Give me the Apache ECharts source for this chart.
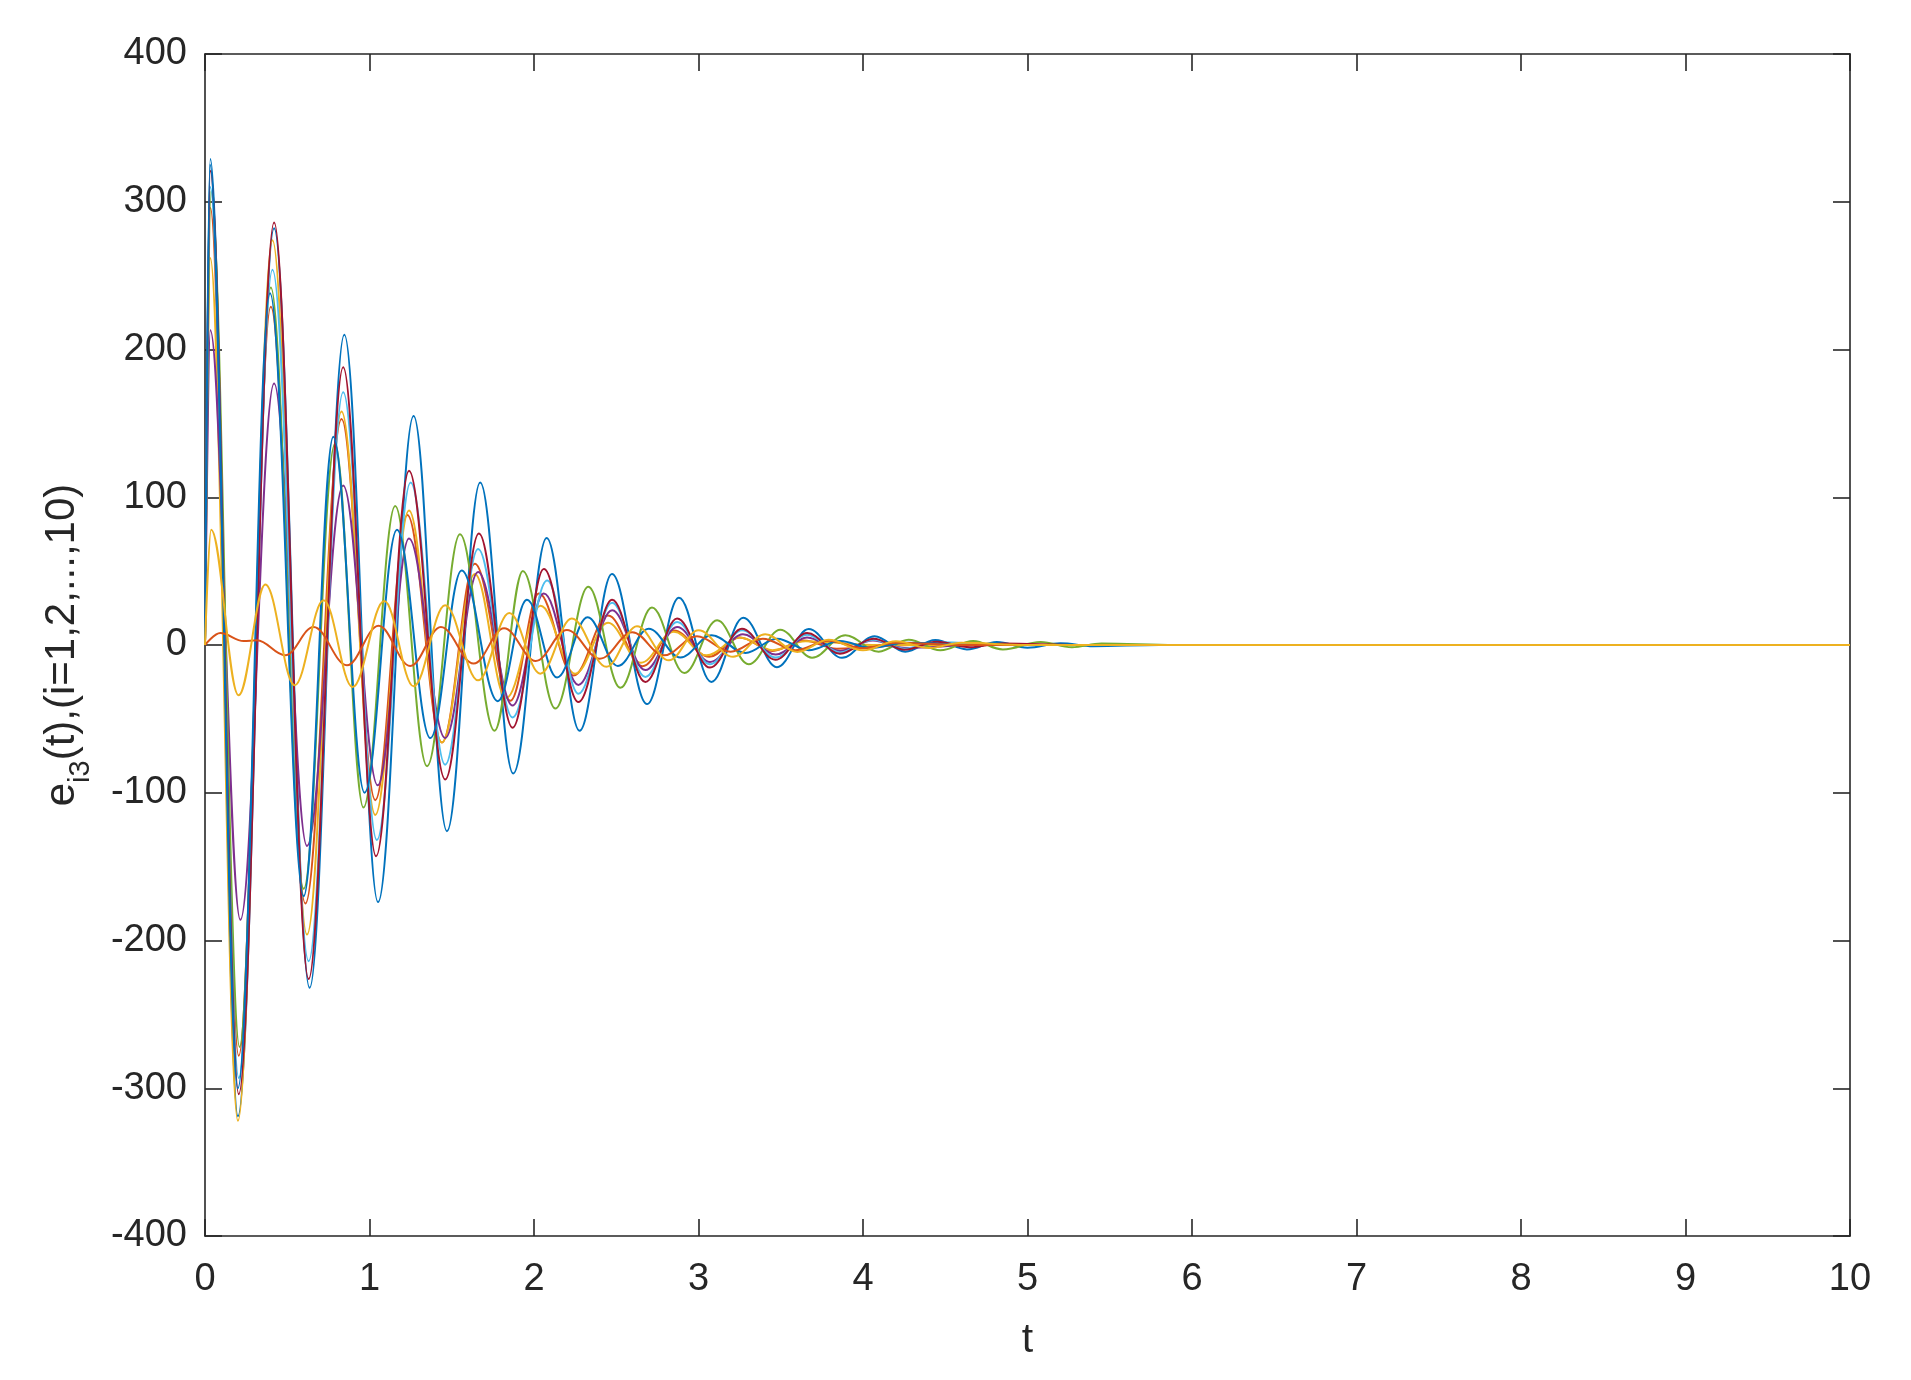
<!DOCTYPE html>
<html>
<head>
<meta charset="utf-8">
<title>e_i3(t)</title>
<script src="https://cdn.jsdelivr.net/npm/echarts@6/dist/echarts.min.js"></script>
<style>
  html, body { margin: 0; padding: 0; background: #fff; }
  #chart { width: 1911px; height: 1380px; }
</style>
</head>
<body>
<div id="chart"></div>
<script>
// extrema, [t, e]
var blue1 = [[0,0],[0.032,329],[0.2,-319],[0.42,282],[0.636,-232],[0.847,210],[1.052,-174],[1.268,155],[1.471,-126],[1.673,110],[1.874,-87],[2.077,72.5],[2.277,-58],[2.474,48],[2.687,-40],[2.881,32],[3.078,-25],[3.272,18.4],[3.477,-15],[3.67,10.8],[3.872,-8.7],[4.07,6],[4.257,-4.5],[4.44,3.4],[4.632,-3],[4.814,2],[5.0,-1.8],[5.2,1.2],[5.4,-0.8],[5.8,0],[10,0]];
var orange1 = [[0,0],[0.032,296],[0.205,-278],[0.4,229],[0.61,-175],[0.83,153],[1.035,-105],[1.23,88],[1.44,-66],[1.64,55],[1.856,-37.7],[2.03,34.8],[2.24,-20.7],[2.45,20],[2.66,-14.4],[2.85,9.8],[3.065,-8],[3.25,5],[3.45,-4],[3.64,3],[3.84,-2.5],[4.3,0],[10,0]];
var yellow1 = [[0,0],[0.032,262],[0.2,-322],[0.41,274],[0.62,-196],[0.83,158],[1.035,-115],[1.24,91],[1.44,-66],[1.64,48],[1.83,-36],[2.04,26.5],[2.25,-19.4],[2.45,15],[2.65,-12],[2.85,9],[3.05,-7],[3.25,5],[3.45,-3.5],[3.65,2.5],[4.1,0],[10,0]];
var purple = [[0,0],[0.032,213],[0.215,-186],[0.42,177],[0.62,-136],[0.84,108],[1.05,-95],[1.24,72],[1.46,-63],[1.66,49.4],[1.87,-41],[2.06,34.8],[2.27,-27],[2.475,23.5],[2.677,-17],[2.87,12.2],[3.07,-11.5],[3.27,7.3],[3.47,-6.5],[3.66,5],[3.86,-4],[4.06,3],[4.25,-2],[4.7,0],[10,0]];
var green = [[0,0],[0.036,307],[0.21,-272],[0.4,242],[0.6,-165],[0.79,136],[0.963,-110],[1.156,94],[1.35,-82],[1.55,75],[1.76,-58],[1.933,50],[2.13,-43],[2.33,39.5],[2.525,-29],[2.717,25.3],[2.914,-19],[3.113,16.7],[3.305,-13],[3.497,10.4],[3.69,-8.6],[3.893,6.6],[4.095,-4.5],[4.277,3.6],[4.47,-3.6],[4.67,2.7],[4.85,-3],[5.08,2],[5.27,-1.5],[5.45,1],[5.9,0],[10,0]];
var lightBlue = [[0,0],[0.032,310],[0.205,-293],[0.41,254],[0.63,-214],[0.84,171],[1.045,-132],[1.25,110],[1.46,-81],[1.66,65],[1.87,-49],[2.08,43.6],[2.27,-33],[2.475,28.6],[2.677,-21.6],[2.87,15.6],[3.07,-13],[3.265,10],[3.47,-8.5],[3.66,7],[3.86,-5],[4.06,3.5],[4.25,-2.5],[4.45,1.8],[4.9,0],[10,0]];
var darkRed = [[0,0],[0.032,321],[0.205,-304],[0.42,286],[0.63,-226],[0.84,188],[1.04,-143],[1.24,118],[1.46,-91],[1.665,75.4],[1.87,-56],[2.06,51.5],[2.27,-38.6],[2.475,30.7],[2.677,-25],[2.87,17.9],[3.07,-15.3],[3.264,11],[3.467,-10],[3.66,8.1],[3.86,-5.9],[4.064,4.3],[4.25,-3.2],[4.45,2.2],[4.65,-1.5],[4.85,1],[5.3,0],[10,0]];
var blue2 = [[0,0],[0.03,325],[0.2,-300],[0.395,238],[0.6,-170],[0.78,141],[0.97,-100],[1.167,78],[1.37,-63],[1.56,50.5],[1.78,-38],[1.957,30.7],[2.14,-22],[2.326,18.7],[2.51,-14.2],[2.697,11],[2.89,-8.5],[3.08,6.6],[3.285,-5.4],[3.477,4.3],[3.67,-3.5],[3.86,2.7],[4.05,-2],[4.25,1.5],[4.7,0],[10,0]];
var orange2 = [[0,0],[0.093,8.1],[0.235,2.7],[0.316,3.2],[0.488,-7],[0.66,12.2],[0.863,-13.7],[1.055,13],[1.248,-14.2],[1.434,12.2],[1.633,-12.6],[1.818,11.4],[2.01,-10.8],[2.2,10.2],[2.4,-9.3],[2.597,8.6],[2.79,-7],[2.99,5.9],[3.195,-4.5],[3.39,4.3],[3.59,-3.5],[3.79,2.8],[4.0,-2.2],[4.2,1.6],[4.6,0],[10,0]];
var yellow2 = [[0,0],[0.037,78],[0.204,-34],[0.367,41],[0.545,-27.3],[0.721,30.3],[0.897,-28.5],[1.09,29.8],[1.268,-28],[1.46,26.9],[1.66,-23.9],[1.85,21.7],[2.038,-19.4],[2.23,17.9],[2.44,-14.8],[2.626,12.7],[2.82,-10.4],[3.0,9.9],[3.21,-8],[3.406,7.2],[3.6,-4.7],[3.79,3.5],[4.0,-3.6],[4.2,2.5],[4.4,-2],[4.6,1.5],[5.0,0],[10,0]];

var seriesData = [blue1, orange1, yellow1, purple, green, lightBlue, darkRed, blue2, orange2, yellow2];
var seriesColors = ['#0072BD','#D95319','#EDB120','#7E2F8E','#77AC30','#4DBEEE','#A2142F','#0072BD','#D95319','#EDB120'];

var xTicks = { min: 0, max: 10, step: 1 };
var yTicks = { min: -400, max: 400, step: 100 };

var axisColor = '#262626';
var fontFam = '"Liberation Sans", Arial, Helvetica, sans-serif';

var myChart = echarts.init(document.getElementById('chart'), null, { renderer: 'canvas' });

function boxAxis(pos, range, withLabel) {
    var ax = {
        type: 'value',
        position: pos,
        min: range.min,
        max: range.max,
        interval: range.step,
        axisLine: { show: true, onZero: false, lineStyle: { color: axisColor, width: 1.6 } },
        axisTick: { show: true, inside: true, length: 17, lineStyle: { color: axisColor, width: 1.6 } },
        axisLabel: { show: withLabel, fontSize: 38, color: axisColor, fontFamily: fontFam },
        splitLine: { show: false }
    };
    return ax;
}

var xBottom = boxAxis('bottom', xTicks, true);
xBottom.axisLabel.margin = 25;
xBottom.name = 't';
xBottom.nameLocation = 'middle';
xBottom.nameGap = 84;
xBottom.nameTextStyle = { fontSize: 41, color: axisColor, fontFamily: fontFam };

var yLeft = boxAxis('left', yTicks, true);
yLeft.axisLabel.margin = 18;
yLeft.name = '{m|e}{s|i3}{m|(t),(i=1,2,...,10)}';
yLeft.nameLocation = 'middle';
yLeft.nameGap = 116;
yLeft.nameTextStyle = {
    color: axisColor,
    fontFamily: fontFam,
    rich: {
        m: { fontSize: 42, lineHeight: 48, verticalAlign: 'top', color: axisColor, fontFamily: fontFam },
        s: { fontSize: 29, lineHeight: 29, verticalAlign: 'top', padding: [25, 0, 0, 0], color: axisColor, fontFamily: fontFam }
    }
};

var series = [];
seriesData.forEach(function (d, i) {
    series.push({
        type: 'line',
        data: d,
        xAxisIndex: 0,
        yAxisIndex: 0,
        showSymbol: false,
        smooth: 0.37,
        smoothMonotone: 'x',
        lineStyle: { color: seriesColors[i], width: 2 },
        itemStyle: { color: seriesColors[i] },
        z: 2 + i
    });
});

var option = {
    backgroundColor: '#ffffff',
    animation: false,
    grid: { left: 205, right: 61, top: 54, bottom: 144, containLabel: false },
    xAxis: [xBottom, boxAxis('top', xTicks, false)],
    yAxis: [yLeft, boxAxis('right', yTicks, false)],
    series: series
};
myChart.setOption(option);
</script>
</body>
</html>
